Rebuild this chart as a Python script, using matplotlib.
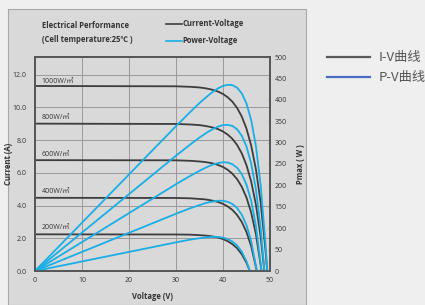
import matplotlib
matplotlib.use("Agg")
import matplotlib.pyplot as plt
from matplotlib.lines import Line2D
from matplotlib.patches import Rectangle
import numpy as np

FONT = ["Open Sans", "Noto Sans CJK SC", "DejaVu Sans"]
plt.rcParams["font.family"] = FONT

DARK = "#3d3d3d"
BLUE = "#1aaee6"
PANEL = "#d9d9d9"
TEXT = "#333333"

# ── data ─────────────────────────────────────────────────────────────────────
irradiance = ["1000W/㎡", "800W/㎡", "600W/㎡", "400W/㎡", "200W/㎡"]

v_1000 = [0, 30, 33, 35, 36, 37, 38, 39, 40, 41, 42, 43, 44, 45, 46, 47, 48, 49, 49.4]
i_1000 = [11.30, 11.28, 11.25, 11.21, 11.17, 11.12, 11.05, 10.95, 10.81, 10.61,
          10.34, 9.96, 9.43, 8.69, 7.66, 6.22, 4.21, 1.41, 0.00]

v_800 = [0, 30, 33, 35, 36, 37, 38, 39, 40, 41, 42, 43, 44, 45, 46, 47, 48, 48.8]
i_800 = [9.00, 8.98, 8.95, 8.91, 8.87, 8.82, 8.75, 8.66, 8.52, 8.33,
         8.07, 7.70, 7.18, 6.46, 5.46, 4.06, 2.11, 0.00]

v_600 = [0, 30, 33, 35, 36, 37, 38, 39, 40, 41, 42, 43, 44, 45, 46, 47, 48.2]
i_600 = [6.77, 6.76, 6.73, 6.69, 6.66, 6.62, 6.56, 6.47, 6.35, 6.18,
         5.94, 5.61, 5.14, 4.48, 3.56, 2.26, 0.00]

v_400 = [0, 30, 33, 35, 36, 37, 38, 39, 40, 41, 42, 43, 44, 45, 46, 47.2]
i_400 = [4.47, 4.46, 4.44, 4.40, 4.38, 4.34, 4.28, 4.21, 4.10, 3.94,
         3.73, 3.42, 2.99, 2.38, 1.51, 0.00]

v_200 = [0, 30, 33, 35, 36, 37, 38, 39, 40, 41, 42, 43, 44, 45, 45.7]
i_200 = [2.24, 2.23, 2.22, 2.19, 2.17, 2.14, 2.10, 2.04, 1.95, 1.82,
         1.64, 1.39, 1.02, 0.50, 0.00]

curves = [(v_1000, i_1000), (v_800, i_800), (v_600, i_600), (v_400, i_400), (v_200, i_200)]
label_pos = [11.6, 9.35, 7.1, 4.85, 2.65]   # current level where each label sits

current_ticks = [0, 2, 4, 6, 8, 10, 12]
power_ticks = list(range(0, 501, 50))
voltage_ticks = [0, 10, 20, 30, 40, 50]

W, H = 425, 305


def fx(px):
    return px / W


def fy(py):
    return 1 - py / H


fig = plt.figure(figsize=(W / 100, H / 100), dpi=100)
fig.patch.set_facecolor("#efefef")

# grey picture panel behind the chart
fig.add_artist(Rectangle((fx(8), 0), fx(306) - fx(8), fy(9), transform=fig.transFigure,
                         facecolor=PANEL, edgecolor="#a8a8a8", lw=0.8, zorder=0))

ax = fig.add_axes([fx(35), fy(271), fx(270) - fx(35), fy(57) - fy(271)])
ax.set_facecolor(PANEL)
ax2 = ax.twinx()

ax.set_xlim(0, 50)
ax.set_ylim(0, 13.07)
ax2.set_ylim(0, 500)

ax.set_xticks(voltage_ticks)
ax.set_yticks(current_ticks)
ax.set_yticklabels([f"{t:.1f}" for t in current_ticks])
ax2.set_yticks(power_ticks)

ax.grid(True, color="#9a9a9a", lw=0.7)
ax.set_axisbelow(True)

ax.tick_params(axis="both", length=0, labelsize=5, labelcolor=TEXT)
ax.tick_params(axis="y", pad=6)
ax.tick_params(axis="x", pad=4.5)
ax2.tick_params(axis="y", direction="in", length=1.5, width=0.5, color="#777777",
                labelsize=5, labelcolor=TEXT, pad=3.5)

for a in (ax, ax2):
    for s in a.spines.values():
        s.set_color("#555555")
        s.set_linewidth(1.2)

for (v, i), lab, ly in zip(curves, irradiance, label_pos):
    v = np.array(v)
    i = np.array(i)
    ax.plot(v, i, color=DARK, lw=1.3, solid_capstyle="butt")
    ax2.plot(v, v * i, color=BLUE, lw=1.3, solid_capstyle="butt")
    ax.text(1.4, ly, lab, fontsize=5, color=TEXT, va="center", ha="left")

ax.set_xlabel("Voltage (V)", fontsize=5.5, fontweight="bold", color=TEXT)
ax.set_ylabel("Current (A)", fontsize=5.5, fontweight="bold", color=TEXT)
ax2.set_ylabel("Pmax ( W )", fontsize=5.5, fontweight="bold", color=TEXT)
ax.xaxis.set_label_coords(0.5, -0.098)
ax.yaxis.set_label_coords(-0.094, 0.5)
ax2.yaxis.set_label_coords(1.112, 0.5)

# header inside the panel
fig.text(fx(42), fy(25), "Electrical Performance", fontsize=5.5, fontweight="bold",
         color=TEXT, va="center")
fig.text(fx(42), fy(40), "(Cell temperature:25℃ )", fontsize=5.5, fontweight="bold",
         color=TEXT, va="center")
fig.add_artist(Line2D([fx(166), fx(182)], [fy(24), fy(24)], color=DARK, lw=1.2,
                      transform=fig.transFigure))
fig.add_artist(Line2D([fx(166), fx(182)], [fy(40.5), fy(40.5)], color=BLUE, lw=1.2,
                      transform=fig.transFigure))
fig.text(fx(182.5), fy(24), "Current-Voltage", fontsize=5.5, fontweight="bold",
         color=TEXT, va="center")
fig.text(fx(182.5), fy(40.5), "Power-Voltage", fontsize=5.5, fontweight="bold",
         color=TEXT, va="center")

# legend to the right of the picture
fig.add_artist(Line2D([fx(327), fx(370)], [fy(57), fy(57)], color="#595959", lw=1.6,
                      transform=fig.transFigure))
fig.add_artist(Line2D([fx(327), fx(370)], [fy(77), fy(77)], color="#4a6bbf", lw=1.6,
                      transform=fig.transFigure))
fig.text(fx(379), fy(57), "I-V曲线", fontsize=9.5, color="#555555", va="center",
         family=["Noto Sans CJK SC", "DejaVu Sans"])
fig.text(fx(379), fy(77), "P-V曲线", fontsize=9.5, color="#555555", va="center",
         family=["Noto Sans CJK SC", "DejaVu Sans"])

fig.savefig("out.png", dpi=100, facecolor=fig.get_facecolor())
